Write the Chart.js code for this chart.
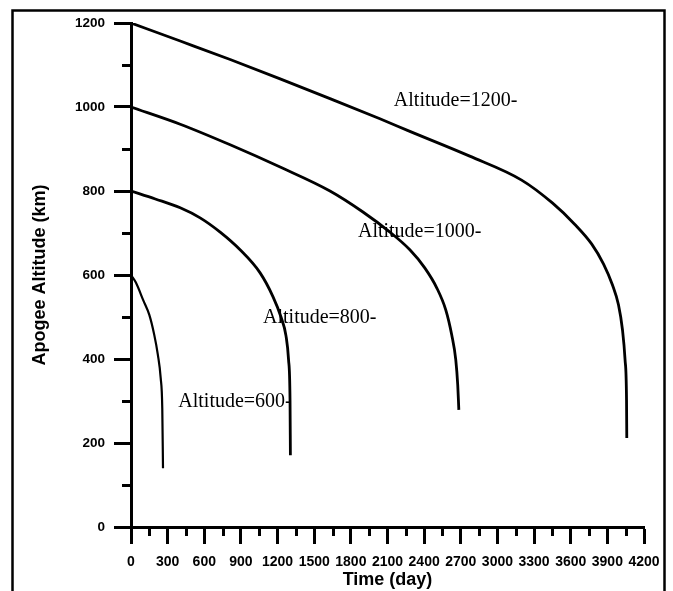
<!DOCTYPE html>
<html>
<head>
<meta charset="utf-8">
<script src="https://cdn.jsdelivr.net/npm/chart.js@4/dist/chart.umd.min.js"></script>
<style>
html,body{margin:0;padding:0;background:#fff;}
canvas{display:block;}
</style>
</head>
<body>
<canvas id="c" width="673" height="591"></canvas>
<script>
// ---- data ----
const xTickValues = [0,300,600,900,1200,1500,1800,2100,2400,2700,3000,3300,3600,3900,4200];
const xMinorTickValues = [150,450,750,1050,1350,1650,1950,2250,2550,2850,3150,3450,3750,4050];
const yTickValues = [0,200,400,600,800,1000,1200];
const yMinorTickValues = [100,300,500,700,900,1100];

const seriesNames = ['Altitude=600-','Altitude=800-','Altitude=1000-','Altitude=1200-'];

const time600 = [0, 40, 100, 150, 190, 220, 243, 256, 262];
const alt600  = [600, 582, 540, 505, 458, 410, 355, 283, 140];

const time800 = [0, 199, 403, 566, 730, 893, 1057, 1163, 1228, 1269, 1290, 1302, 1305];
const alt800  = [800, 781, 760, 736, 702, 660, 605, 548, 500, 455, 398, 302, 171];

const time1000 = [0, 403, 812, 1221, 1629, 1899, 2120, 2283, 2405, 2504, 2577, 2626, 2659, 2675, 2684];
const alt1000  = [1000, 959, 910, 857, 800, 750, 702, 660, 617, 569, 517, 457, 398, 338, 279];

const time1200 = [0, 403, 812, 1221, 1629, 2038, 2283, 2773, 3198, 3452, 3632, 3771, 3869, 3942, 3991, 4024, 4045, 4057, 4059];
const alt1200  = [1200, 1157, 1113, 1067, 1020, 972, 942, 883, 826, 771, 721, 674, 626, 576, 529, 469, 398, 302, 212];

// label anchors (data units: time, altitude) for the in-plot annotations
const labelTime = [387, 1081, 1858, 2152];
const labelAlt  = [286, 486, 690, 1002];

function toPoints(t, a){ return t.map((v,i)=>({x:v, y:a[i]})); }

const SANS = '"Liberation Sans", Arial, sans-serif';

const extrasPlugin = {
  id: 'extras',
  afterDraw(chart){
    const ctx = chart.ctx;
    const xs = chart.scales.x, ys = chart.scales.y;
    ctx.save();
    ctx.strokeStyle = '#000';
    ctx.lineCap = 'butt';
    ctx.lineWidth = 3;
    // minor ticks
    xMinorTickValues.forEach(v=>{
      const px = Math.round(xs.getPixelForValue(v)) + 0.5;
      ctx.beginPath(); ctx.moveTo(px, ys.bottom); ctx.lineTo(px, ys.bottom + 9); ctx.stroke();
    });
    yMinorTickValues.forEach(v=>{
      const py = Math.round(ys.getPixelForValue(v)) + 0.5;
      ctx.beginPath(); ctx.moveTo(xs.left, py); ctx.lineTo(xs.left - 9, py); ctx.stroke();
    });
    // curve annotations
    ctx.fillStyle = '#000';
    ctx.font = '20px "Liberation Serif", "Times New Roman", serif';
    ctx.textAlign = 'left';
    ctx.textBaseline = 'alphabetic';
    seriesNames.forEach((name,i)=>{
      ctx.fillText(name, xs.getPixelForValue(labelTime[i]), ys.getPixelForValue(labelAlt[i]));
    });
    // outer frame
    ctx.lineWidth = 2.5;
    ctx.strokeRect(12.5, 10.5, 652, 700);
    ctx.restore();
  }
};

const widths = [2.2, 2.8, 2.8, 2.8];
const datasets = [
  toPoints(time600, alt600),
  toPoints(time800, alt800),
  toPoints(time1000, alt1000),
  toPoints(time1200, alt1200)
].map((d,i)=>({
  label: seriesNames[i],
  data: d,
  showLine: true,
  borderColor: '#000',
  backgroundColor: '#000',
  borderWidth: widths[i],
  pointRadius: 0,
  cubicInterpolationMode: 'monotone',
  fill: false
}));

const plainNum = v => String(v);

new Chart(document.getElementById('c'), {
  type: 'scatter',
  data: { datasets },
  plugins: [extrasPlugin],
  options: {
    responsive: false,
    animation: false,
    events: [],
    layout: { padding: { top: 23, right: 29, left: 0, bottom: 0 } },
    plugins: { legend: { display: false }, tooltip: { enabled: false } },
    scales: {
      x: {
        type: 'linear', position: 'bottom', min: 0, max: 4200,
        afterBuildTicks: s => { s.ticks = xTickValues.map(v=>({value:v})); },
        afterFit: s => { s.height = 64; },
        ticks: { color:'#000', font:{family:SANS, size:14, weight:'bold'}, padding: 10, maxRotation:0, autoSkip:false, callback: plainNum },
        grid: { display:true, drawOnChartArea:false, drawTicks:true, tickLength:17, tickWidth:3, tickColor:'#000' },
        border: { display:true, color:'#000', width:3 },
        title: { display:true, text:'Time (day)', color:'#000', font:{family:SANS, size:18, weight:'bold'}, padding:{top:0, bottom:0} }
      },
      y: {
        type: 'linear', position: 'left', min: 0, max: 1200,
        afterBuildTicks: s => { s.ticks = yTickValues.map(v=>({value:v})); },
        afterFit: s => { s.width = 131; },
        ticks: { color:'#000', font:{family:SANS, size:13.5, weight:'bold'}, padding: 9, callback: plainNum },
        grid: { display:true, drawOnChartArea:false, drawTicks:true, tickLength:17, tickWidth:3, tickColor:'#000' },
        border: { display:true, color:'#000', width:3 },
        title: { display:true, text:'Apogee Altitude (km)', color:'#000', font:{family:SANS, size:18, weight:'bold'}, padding:{top:29, bottom:0} }
      }
    }
  }
});
</script>
</body>
</html>
